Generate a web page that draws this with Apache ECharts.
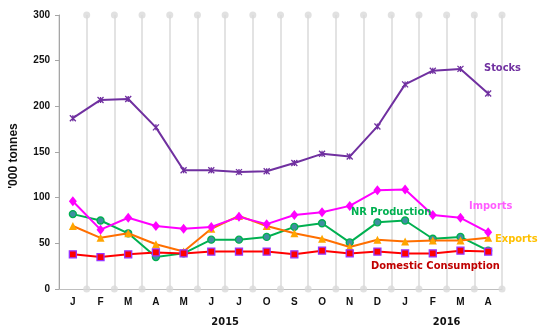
<!DOCTYPE html>
<html>
<head>
<meta charset="utf-8">
<script src="https://cdn.jsdelivr.net/npm/echarts@6/dist/echarts.min.js"></script>
<style>
html,body{margin:0;padding:0;background:#fff;}
#chart{width:550px;height:335px;}
</style>
</head>
<body>
<div id="chart"></div>
<script>
var months = ['J','F','M','A','M','J','J','O','S','O','N','D','J','F','M','A'];
var years = ['2015','2016'];
var yearSpans = [12, 4];
var yTicks = [0,50,100,150,200,250,300];

var stocks       = [187,207,208,177,130,130,128,129,138,148,145,178,224,239,241,214];
var imports      = [96,65,78,69,66,68,79,71,81,84,91,108,109,81,78,62];
var nrProduction = [82,75,61,35,39,54,54,57,68,72,51,73,75,55,57,42];
var exportsData  = [69,56,61,49,41,66,80,69,61,55,46,54,52,53,53,56];
var domestic     = [38,35,38,40,39,41,41,41,38,42,39,41,39,39,42,41];

var seriesNames = ['Stocks','Imports','NR Production','Exports','Domestic Consumption'];

var yMin = yTicks[0], yMax = yTicks[yTicks.length-1];
var yStep = yTicks[1]-yTicks[0];

// year label centres on a 0..N value axis
var yearCentres = {};
var acc = 0;
for (var k = 0; k < years.length; k++) {
  yearCentres[acc + yearSpans[k]/2] = years[k];
  acc += yearSpans[k];
}

// decorative dots at the category boundaries (top & bottom)
var dots = [];
for (var i = 1; i <= months.length; i++) {
  dots.push([i, yMin]);
  dots.push([i, yMax]);
}

var starPath = 'path://M0,0L10,10M10,0L0,10M5,0L5,10';
var lblFont = "'DejaVu Sans Condensed','Liberation Sans',sans-serif";

var chart = echarts.init(document.getElementById('chart'), null, {renderer:'canvas'});
chart.setOption({
  animation: false,
  backgroundColor: '#ffffff',
  grid: {left: 58, right: 48, top: 15, bottom: 46, containLabel: false},
  xAxis: [{
    type: 'category',
    data: months,
    boundaryGap: true,
    axisLine: {show: true, lineStyle: {color: '#bfbfbf', width: 1}},
    axisTick: {show: false},
    axisLabel: {color: '#111', fontWeight: 'bold', fontSize: 10, fontFamily: 'Liberation Sans, Arial, sans-serif', margin: 8, interval: 0},
    splitLine: {show: true, lineStyle: {color: '#e3e3e3', width: 2}}
  }, {
    type: 'value',
    min: 0,
    max: months.length,
    interval: 1,
    position: 'bottom',
    axisLine: {show: false},
    axisTick: {show: false},
    splitLine: {show: false},
    axisLabel: {
      show: true, margin: 28, color: '#111', fontWeight: 'bold', fontSize: 11,
      fontFamily: lblFont,
      formatter: function (v) { return yearCentres[v] || ''; }
    }
  }],
  yAxis: {
    type: 'value',
    min: yMin, max: yMax, interval: yStep,
    name: "'000 tonnes",
    nameLocation: 'middle',
    nameGap: 39,
    nameRotate: 90,
    nameTextStyle: {color: '#111', fontWeight: 'bold', fontSize: 12, fontFamily: 'Liberation Sans, Arial, sans-serif', padding: [0,0,0,-8]},
    axisLine: {show: true, lineStyle: {color: '#a6a6a6', width: 1}},
    axisTick: {show: true, length: 4, lineStyle: {color: '#a6a6a6'}},
    axisLabel: {color: '#111', fontWeight: 'bold', fontSize: 10, fontFamily: 'Liberation Sans, Arial, sans-serif', margin: 9},
    splitLine: {show: false}
  },
  series: [{
    type: 'scatter',
    xAxisIndex: 1,
    data: dots,
    symbol: 'circle',
    symbolSize: 7,
    clip: false,
    silent: true,
    z: 1,
    itemStyle: {color: '#dadada'}
  }, {
    name: seriesNames[0], type: 'line', data: stocks,
    symbol: starPath, symbolSize: 6, showAllSymbol: true,
    lineStyle: {color: '#7030A0', width: 2},
    itemStyle: {color: 'none', borderColor: '#7030A0', borderWidth: 1.3},
    z: 3
  }, {
    name: seriesNames[2], type: 'line', data: nrProduction,
    symbol: 'circle', symbolSize: 7,
    lineStyle: {color: '#00B050', width: 2},
    itemStyle: {color: '#3F8FA0', borderColor: '#00B050', borderWidth: 1.3},
    z: 3
  }, {
    name: seriesNames[3], type: 'line', data: exportsData,
    symbol: 'triangle', symbolSize: 8,
    lineStyle: {color: '#FF6F00', width: 2},
    itemStyle: {color: '#FFA500', borderColor: '#FFA500', borderWidth: 0},
    z: 4
  }, {
    name: seriesNames[1], type: 'line', data: imports,
    symbol: 'diamond', symbolSize: [8, 10],
    lineStyle: {color: '#FF00FF', width: 2},
    itemStyle: {color: '#FF00FF'},
    z: 5
  }, {
    name: seriesNames[4], type: 'line', data: domestic,
    symbol: 'rect', symbolSize: 7,
    lineStyle: {color: '#FF0000', width: 2},
    itemStyle: {color: '#FF0000', borderColor: '#9933FF', borderWidth: 1.3},
    z: 6
  }],
  graphic: [
    {type:'text', left: 484, top: 63, z: 10, style:{text: seriesNames[0], fill:'#7030A0', font: "bold 11px " + lblFont}},
    {type:'text', left: 469, top: 201, z: 10, style:{text: seriesNames[1], fill:'#FF5CFF', font: "bold 11px " + lblFont}},
    {type:'text', left: 351, top: 207, z: 10, style:{text: seriesNames[2], fill:'#00B050', font: "bold 11px " + lblFont}},
    {type:'text', left: 495, top: 234, z: 10, style:{text: seriesNames[3], fill:'#FFC000', font: "bold 11px " + lblFont}},
    {type:'text', left: 371, top: 261, z: 10, style:{text: seriesNames[4], fill:'#C00000', font: "bold 11px " + lblFont}}
  ]
});
</script>
</body>
</html>
